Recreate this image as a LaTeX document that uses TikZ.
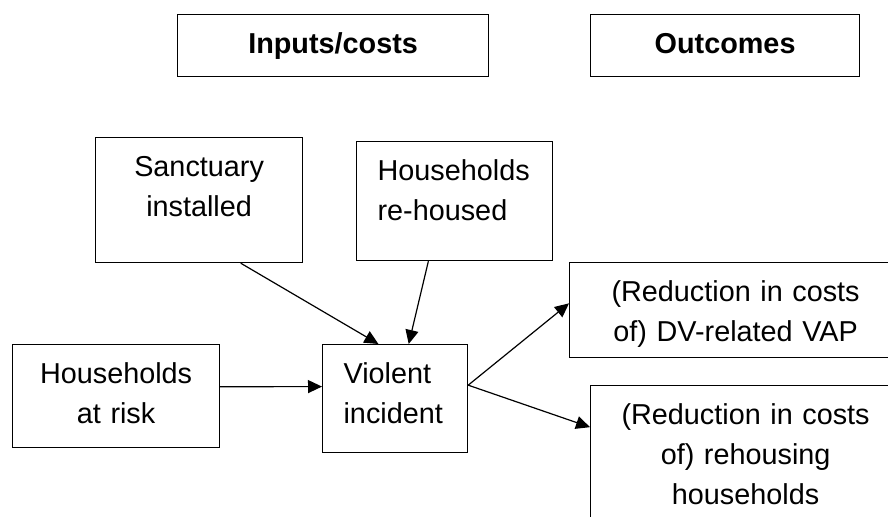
\documentclass[tikz,border=0pt]{standalone}
\usepackage{fontspec}
\setmainfont{Liberation Sans}
\usetikzlibrary{calc}
\usetikzlibrary{arrows.meta}

\tikzset{
    box/.style={draw, rectangle, line width=0.6pt, anchor=north west,
        inner xsep=10.5pt, inner ysep=0pt, text height=19.3pt,
        font=\fontsize{14.4pt}{20pt}\selectfont},
    head/.style={box, align=center, text depth=11.7pt,
        font=\fontsize{14.4pt}{20pt}\selectfont\bfseries},
    arr/.style={-{Triangle[length=7pt,width=6.5pt]}, line width=0.6pt}
}

\begin{document}
\begin{tikzpicture}[x=0.5pt,y=-0.5pt]
    \useasboundingbox (0,0) rectangle (888,517);
    \clip (0,0) rectangle (888,517);
    \fill[white] (0,0) rectangle (888,517);

    % the two headings
    \node[head, text width=134.5pt] (inputs) at (177,14) {Inputs/costs};
    \node[head, text width=113.5pt] (outcomes) at (590,14) {Outcomes};

    % the inputs
    \node[box, text width=82.5pt, align=center, text depth=43.2pt] (sanct) at (95,137) {Sanctuary\\installed};
    \node[box, text width=77pt, align=left, text depth=40.2pt] (rehoused) at (356,141) {Households\\re-housed};
    \node[box, text width=82.5pt, align=center, text depth=32.2pt] (risk) at (12,344) {Households\\at risk};
    \node[box, text width=51.5pt, align=left, text depth=34.7pt] (viol) at (322,344) {Violent\\incident};

    % the outcomes (cut off at the edge)
    \node[box, text width=145pt, align=center, text depth=28.2pt] (vap) at (569,262) {(Reduction in costs\\of) DV-related VAP};
    \node[box, text width=134pt, align=center, text depth=58.2pt] (rehouse) at (590,385) {(Reduction in costs\\of) rehousing\\households};

    % the arrows
    \draw[arr] ($(sanct.south west)!0.70!(sanct.south east)$) -- ($(viol.north west)!0.386!(viol.north east)$);
    \draw[arr] ($(rehoused.south west)!0.367!(rehoused.south east)$) -- ($(viol.north west)!0.593!(viol.north east)$);
    \draw[arr] ($(risk.north east)!0.41!(risk.south east)$) -- ($(viol.north west)!0.39!(viol.south west)$);
    \draw[arr] ($(viol.north east)!0.377!(viol.south east)$) -- ($(vap.north west)!0.43!(vap.south west)$);
    \draw[arr] ($(viol.north east)!0.377!(viol.south east)$) -- ($(rehouse.north west)!0.27!(rehouse.south west)$);
\end{tikzpicture}
\end{document}
